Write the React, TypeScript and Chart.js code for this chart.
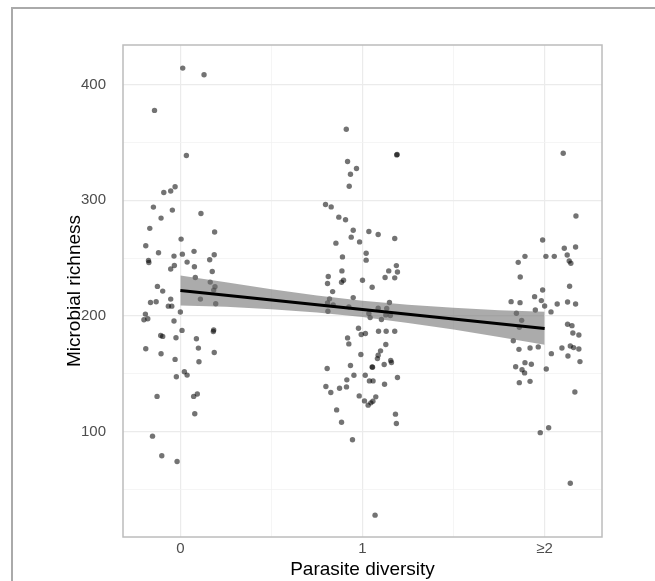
import React, { useEffect, useRef } from 'react';
import { Chart, registerables } from 'chart.js';

Chart.register(...registerables);

// ---- Data ----
// Parasite diversity = 0 (jittered x)
const group0X = [0.013, 0.13, -0.142, 0.033, -0.029, -0.053, -0.091, -0.148, -0.044, 0.113, -0.106, -0.168, 0.188, 0.004, -0.19, -0.12, 0.011, -0.035, 0.075, 0.186, 0.161, -0.175, -0.173, 0.037, -0.033, -0.053, 0.077, 0.175, 0.082, 0.164, -0.126, 0.19, 0.183, -0.097, 0.11, -0.053, -0.133, -0.164, -0.066, -0.047, 0.194, 0.0, -0.192, -0.2, -0.179, -0.035, 0.183, 0.181, 0.009, -0.108, -0.097, -0.024, 0.088, -0.19, 0.099, -0.106, 0.186, -0.029, 0.102, 0.022, 0.037, -0.022, -0.128, 0.073, 0.093, 0.079, -0.153, -0.102, -0.018];
const group0Y = [414.4, 408.7, 377.8, 338.8, 311.7, 308, 306.8, 294.1, 291.5, 288.6, 284.6, 275.7, 272.5, 266.4, 260.7, 254.6, 253.4, 251.7, 255.8, 252.9, 248.5, 248, 246.2, 246.5, 243.6, 240.5, 242.5, 238.4, 233.2, 229.2, 225.5, 225.2, 222.3, 221.4, 214.5, 214.5, 212.2, 211.6, 208.4, 208.4, 210.5, 203.3, 201.5, 196.6, 197.5, 195.5, 187.7, 186.5, 187.4, 183, 182.2, 181, 180.2, 171.5, 172.1, 167.2, 168.3, 162.3, 160.3, 151.6, 148.7, 147.3, 130.3, 130.3, 132.3, 115.3, 95.9, 78.9, 74];

// Parasite diversity = 1
const group1X = [0.911, 1.188, 1.19, 0.918, 0.967, 0.934, 0.927, 0.797, 0.828, 0.87, 0.907, 0.949, 1.035, 1.086, 1.177, 0.938, 0.854, 0.984, 1.02, 0.89, 1.02, 1.186, 1.144, 1.192, 0.887, 0.812, 1.124, 1.177, 0.896, 0.885, 1.0, 0.808, 1.053, 0.836, 0.819, 0.949, 0.808, 0.839, 0.925, 0.81, 1.086, 1.133, 1.148, 1.035, 1.042, 1.104, 1.128, 1.153, 0.978, 0.993, 1.016, 1.088, 1.13, 1.177, 0.918, 0.925, 1.128, 1.099, 0.991, 1.086, 1.082, 1.155, 1.159, 1.119, 1.053, 1.055, 0.806, 0.934, 0.953, 1.015, 0.914, 1.038, 1.058, 1.192, 0.799, 0.912, 0.874, 1.121, 0.826, 0.982, 1.073, 1.011, 1.057, 1.046, 1.031, 0.858, 1.181, 0.885, 1.186, 0.945, 1.069];
const group1Y = [361.5, 339.3, 339.6, 333.6, 327.5, 322.6, 312.2, 296.3, 294.3, 285.4, 283.1, 274.1, 273, 270.4, 266.9, 268.1, 262.9, 264, 254.2, 251, 248.2, 243.5, 238.9, 238, 238.9, 234, 233.2, 232.9, 230.8, 229.1, 230.8, 228, 224.8, 221, 214.7, 215.8, 211.2, 209.5, 207.8, 204, 206.6, 206.3, 211.5, 202, 198.5, 196.8, 200.8, 200.2, 189.3, 183.8, 184.7, 186.7, 186.7, 186.7, 180.9, 175.7, 175.2, 169.7, 166.5, 165.9, 163, 161.3, 159.6, 157.9, 155.8, 155.5, 154.4, 157, 148.6, 148.6, 144.6, 143.7, 143.7, 146.6, 138.8, 138.5, 137.4, 140.8, 133.6, 130.7, 129.9, 126.4, 126.1, 124.7, 122.7, 118.6, 114.9, 107.9, 106.8, 92.7, 27.5];

// Parasite diversity >= 2
const group2X = [2.102, 2.172, 1.989, 2.108, 2.17, 1.892, 2.007, 2.053, 2.124, 1.855, 2.135, 2.144, 1.866, 2.137, 1.989, 1.945, 1.982, 2.069, 2.126, 2.17, 1.816, 1.865, 2.0, 1.949, 2.035, 1.845, 1.874, 1.861, 2.126, 2.15, 2.155, 2.188, 1.828, 1.859, 1.92, 1.965, 2.095, 2.141, 2.159, 2.188, 2.037, 2.128, 2.194, 1.892, 1.927, 1.841, 1.876, 1.89, 2.009, 1.861, 1.92, 2.166, 1.976, 2.022, 2.141];
const group2Y = [340.7, 286.4, 265.7, 258.5, 259.6, 251.5, 251.5, 251.5, 252.7, 246.3, 247.5, 245.5, 233.6, 225.6, 222.4, 216.6, 213.2, 210.3, 212, 210.3, 212.3, 211.4, 208.5, 205.1, 203.4, 202.2, 196.1, 190.1, 192.7, 191.5, 185.2, 183.4, 178.5, 171, 172.2, 173.1, 172.2, 173.9, 172.5, 171.3, 167.3, 165.3, 160.4, 159.5, 158.1, 156, 153.4, 150.6, 154, 142.2, 143.3, 134.1, 98.9, 103.2, 55.1];

// Linear fit and its confidence band
const fitX = [0, 2];
const fitY = [222, 189];
const bandX = [0, 0.25, 0.5, 0.75, 1, 1.25, 1.5, 1.75, 2];
const bandUpper = [235, 229, 223, 217.6, 213, 209.6, 206.9, 204.8, 203.5];
const bandLower = [209, 207.8, 205.8, 202.9, 199, 193.9, 188.1, 181.7, 175];

// Axes
const xTickValues = [0, 0.5, 1, 1.5, 2];
const xTickLabels = ['0', '', '1', '', '\u22652'];
const yTickValues = [50, 100, 150, 200, 250, 300, 350, 400];
const yLabelledTicks = [100, 200, 300, 400];

const FONT = "'Liberation Sans', Arial, Helvetica, sans-serif";

const toPoints = (xs: number[], ys: number[]) => xs.map((x, i) => ({ x, y: ys[i] }));

const panelBorder = {
  id: 'panelBorder',
  afterDatasetsDraw(chart: any) {
    const { ctx, chartArea } = chart;
    const { left, top, right, bottom } = chartArea;
    ctx.save();
    ctx.strokeStyle = '#bcbcbc';
    ctx.lineWidth = 1.5;
    ctx.strokeRect(left, top, right - left, bottom - top);
    ctx.restore();
  },
};

export default function App() {
  const canvasRef = useRef<HTMLCanvasElement | null>(null);

  useEffect(() => {
    if (!canvasRef.current) return;
    const pointStyle = {
      type: 'scatter' as const,
      backgroundColor: 'rgba(0,0,0,0.55)',
      borderWidth: 0,
      pointRadius: 2.7,
      order: 3,
    };
    const chart = new Chart(canvasRef.current, {
      type: 'scatter',
      data: {
        datasets: [
          { ...pointStyle, label: '0', data: toPoints(group0X, group0Y) },
          { ...pointStyle, label: '1', data: toPoints(group1X, group1Y) },
          { ...pointStyle, label: '>=2', data: toPoints(group2X, group2Y) },
          {
            type: 'line',
            label: 'lower',
            data: toPoints(bandX, bandLower),
            borderWidth: 0,
            pointRadius: 0,
            fill: false,
            order: 2,
          },
          {
            type: 'line',
            label: 'upper',
            data: toPoints(bandX, bandUpper),
            borderWidth: 0,
            pointRadius: 0,
            fill: '-1',
            backgroundColor: 'rgba(110,110,110,0.58)',
            order: 2,
          },
          {
            type: 'line',
            label: 'fit',
            data: toPoints(fitX, fitY),
            borderColor: '#000000',
            borderWidth: 3,
            pointRadius: 0,
            fill: false,
            order: 1,
          },
        ] as any,
      },
      options: {
        responsive: false,
        animation: false,
        layout: { padding: { left: 60, top: 45, right: 53, bottom: 0 } },
        plugins: {
          legend: { display: false },
          tooltip: { enabled: false },
        },
        scales: {
          x: {
            type: 'linear',
            min: -0.315,
            max: 2.315,
            afterBuildTicks: (s: any) => {
              s.ticks = xTickValues.map((v) => ({ value: v }));
            },
            afterFit: (s: any) => {
              s.height = 44;
            },
            ticks: {
              callback: (v: any) => {
                const i = xTickValues.indexOf(Number(v));
                return i >= 0 ? xTickLabels[i] : '';
              },
              autoSkip: false,
              maxRotation: 0,
              padding: 3,
              color: '#4d4d4d',
              font: { family: FONT, size: 15 },
            },
            grid: {
              drawTicks: false,
              color: (ctx: any) => (ctx.tick && Number.isInteger(ctx.tick.value) ? '#ebebeb' : '#f3f3f3'),
              lineWidth: (ctx: any) => (ctx.tick && Number.isInteger(ctx.tick.value) ? 1.2 : 0.8),
            },
            border: { display: false },
            title: {
              display: true,
              text: 'Parasite diversity',
              color: '#000000',
              font: { family: FONT, size: 19 },
              padding: { top: 0, bottom: 0 },
            },
          },
          y: {
            type: 'linear',
            min: 8.6,
            max: 434.4,
            afterBuildTicks: (s: any) => {
              s.ticks = yTickValues.map((v) => ({ value: v }));
            },
            afterFit: (s: any) => {
              s.width = 63;
            },
            ticks: {
              callback: (v: any) => (yLabelledTicks.includes(Number(v)) ? String(v) : ''),
              autoSkip: false,
              padding: 17,
              color: '#4d4d4d',
              font: { family: FONT, size: 15 },
            },
            grid: {
              drawTicks: false,
              color: (ctx: any) => (ctx.tick && ctx.tick.value % 100 === 0 ? '#ebebeb' : '#f3f3f3'),
              lineWidth: (ctx: any) => (ctx.tick && ctx.tick.value % 100 === 0 ? 1.2 : 0.8),
            },
            border: { display: false },
            title: {
              display: true,
              text: 'Microbial richness',
              color: '#000000',
              font: { family: FONT, size: 19 },
              padding: { top: 3, bottom: 0 },
            },
          },
        },
      } as any,
      plugins: [panelBorder],
    });
    return () => chart.destroy();
  }, []);

  return (
    <div style={{ position: 'fixed', left: 0, top: 0, width: 655, height: 581, background: '#ffffff', overflow: 'hidden' }}>
      <div
        style={{
          position: 'absolute',
          left: 11,
          top: 7,
          width: 700,
          height: 700,
          borderTop: '2px solid #aaaaaa',
          borderLeft: '2px solid #aaaaaa',
          boxSizing: 'border-box',
        }}
      />
      <canvas ref={canvasRef} width={655} height={581} style={{ position: 'absolute', left: 0, top: 0 }} />
    </div>
  );
}
